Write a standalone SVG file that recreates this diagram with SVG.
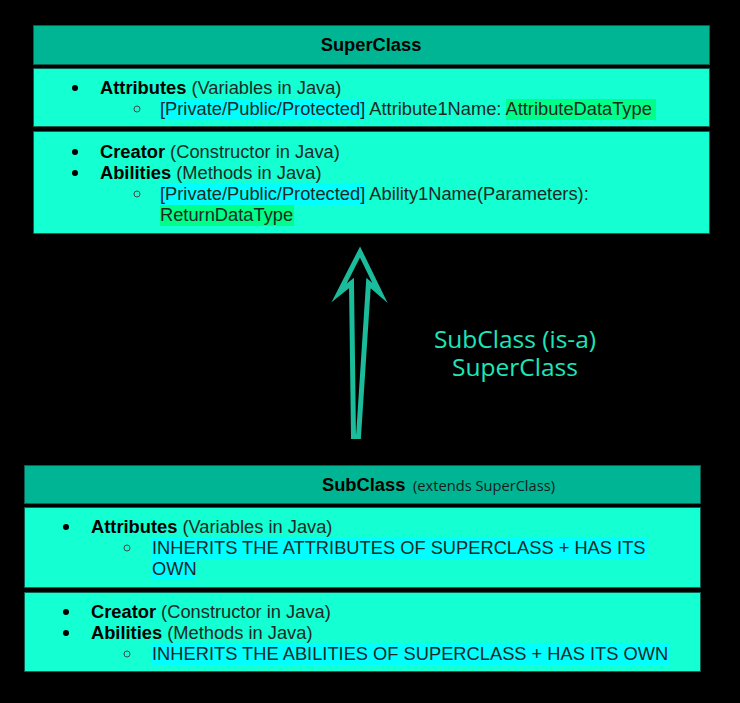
<svg xmlns="http://www.w3.org/2000/svg" width="740" height="703" viewBox="0 0 740 703">
<style>
.hdr{fill:#00b593;stroke:#0b5e50;stroke-width:1}
.body{fill:#14ffd2;stroke:#0b5e50;stroke-width:1}
.t{font-family:"Liberation Sans",Arial,sans-serif;font-size:18.3px;fill:#1c2a26}
.b{font-weight:bold;fill:#000}
.dot{fill:#000}
.ring{fill:none;stroke:#3a4a46;stroke-width:1}
.cy{fill:#00ffff}
.gr{fill:#00ff88}
.lbl{font-family:"Open Sans","Noto Sans",sans-serif;font-size:24.5px;fill:#1de6b8;text-anchor:middle}
</style>
<rect width="740" height="703" fill="#000"/>
<g id="superclass">
<rect class="hdr" x="33.5" y="25.5" width="676" height="39"/>
<rect class="body" x="33.5" y="68.5" width="676" height="58"/>
<rect class="body" x="33.5" y="131.5" width="676" height="102"/>
<text class="t b" x="371" y="51" text-anchor="middle">SuperClass</text>
<circle class="dot" cx="75" cy="88" r="3"/>
<text class="t" x="100" y="94"><tspan class="b">Attributes</tspan> (Variables in Java)</text>
<circle class="ring" cx="137" cy="109" r="3"/>
<rect class="cy" x="160" y="99" width="206" height="21"/>
<rect class="gr" x="506" y="99" width="150" height="21"/>
<text class="t" x="160" y="115">[Private/Public/Protected] Attribute1Name: AttributeDataType</text>
<circle class="dot" cx="75" cy="152" r="3"/>
<text class="t" x="100" y="158"><tspan class="b">Creator</tspan> (Constructor in Java)</text>
<circle class="dot" cx="75" cy="173" r="3"/>
<text class="t" x="100" y="179"><tspan class="b">Abilities</tspan> (Methods in Java)</text>
<circle class="ring" cx="137" cy="194" r="3"/>
<rect class="cy" x="160" y="184" width="206" height="21"/>
<text class="t" x="160" y="200">[Private/Public/Protected] Ability1Name(Parameters):</text>
<rect class="gr" x="160" y="205" width="134" height="21"/>
<text class="t" x="160" y="221">ReturnDataType</text>
</g>
<g id="subclass">
<rect class="hdr" x="24.5" y="465.5" width="676" height="38"/>
<rect class="body" x="24.5" y="507.5" width="676" height="80"/>
<rect class="body" x="24.5" y="592.5" width="676" height="79"/>
<text class="t b" x="322" y="491">SubClass</text>
<text x="413" y="491" font-family="'Open Sans','Noto Sans',sans-serif" font-size="14.5" fill="#15201d" textLength="142" lengthAdjust="spacingAndGlyphs">(extends SuperClass)</text>
<circle class="dot" cx="66" cy="527" r="3"/>
<text class="t" x="91" y="533"><tspan class="b">Attributes</tspan> (Variables in Java)</text>
<circle class="ring" cx="127" cy="548" r="3"/>
<rect class="cy" x="152" y="538" width="495" height="21"/>
<rect class="cy" x="152" y="559" width="43" height="21"/>
<text class="t" x="152" y="554">INHERITS THE ATTRIBUTES OF SUPERCLASS + HAS ITS</text>
<text class="t" x="152" y="575">OWN</text>
<circle class="dot" cx="66" cy="612" r="3"/>
<text class="t" x="91" y="618"><tspan class="b">Creator</tspan> (Constructor in Java)</text>
<circle class="dot" cx="66" cy="633" r="3"/>
<text class="t" x="91" y="639"><tspan class="b">Abilities</tspan> (Methods in Java)</text>
<circle class="ring" cx="127" cy="654" r="3"/>
<rect class="cy" x="152" y="644" width="517" height="21"/>
<text class="t" x="152" y="660">INHERITS THE ABILITIES OF SUPERCLASS + HAS ITS OWN</text>
</g>
<g id="connectors">
<polygon points="360,252 380,293 368.5,283 358.5,436.5 353.5,436.5 351.5,283 339,293" fill="none" stroke="#1abc9c" stroke-width="5" stroke-linejoin="miter" stroke-miterlimit="10"/>
<text class="lbl" x="515" y="348">SubClass (is-a)<tspan x="515" dy="28">SuperClass</tspan></text>
</g>
</svg>
